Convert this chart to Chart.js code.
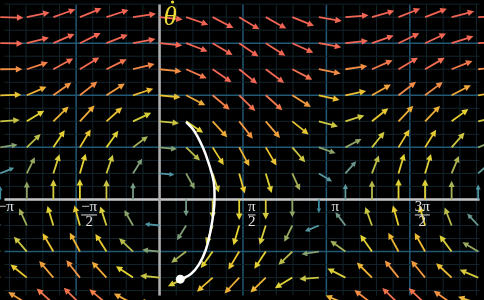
<!DOCTYPE html>
<html>
<head>
<meta charset="utf-8">
<title>Pendulum phase space</title>
<script src="https://cdn.jsdelivr.net/npm/chart.js@4.4.0/dist/chart.umd.min.js"></script>
<style>
    html, body { margin: 0; padding: 0; background: #000; }
    #wrap { width: 484px; height: 300px; }
</style>
</head>
<body>
<div id="wrap"><canvas id="phaseChart" width="484" height="300"></canvas></div>
<script>
// Phase space of a damped pendulum: theta on x, theta-dot on y

// Sample grid of the vector field
const thetaSamples = [-3, -2.5, -2, -1.5, -1, -0.5, 0, 0.5, 1, 1.5, 2, 2.5, 3, 3.5, 4, 4.5, 5, 5.5, 6];
const omegaSamples = [-2, -1.5, -1, -0.5, 0, 0.5, 1, 1.5, 2, 2.5, 3, 3.5];

// Vertical component of the arrows on the theta axis (one per column)
const gravityPull = [0.26, 1.08, 1.64, 1.80, 1.52, 0.87, 0, -0.87, -1.52, -1.80, -1.64, -1.08, -0.26,
                     0.63, 1.37, 1.77, 1.73, 1.27, 0.50];
// Extra vertical component from friction (one per row)
const dragByRow = [0.20, 0.15, 0.10, 0.05, 0, -0.05, -0.10, -0.15, -0.20, -0.25, -0.30, -0.35];

// White trail ending at the current state
const trailTheta = [0.50, 0.65, 0.81, 0.92, 1.02, 1.035, 1.02, 0.96, 0.87, 0.74, 0.59, 0.41];
const trailOmega = [1.49, 1.32, 1.01, 0.71, 0.34, 0.02, -0.22, -0.60, -0.97, -1.25, -1.43, -1.53];
const stateTheta = [0.39];
const stateOmega = [-1.53];

// Tick labels on the theta axis
const thetaTickValues = [-Math.PI, -Math.PI / 2, Math.PI / 2, Math.PI, 3 * Math.PI / 2];
const thetaTickLabels = ['\u2212\u03c0', '\u2212\u03c0/2', '\u03c0/2', '\u03c0', '3\u03c0/2'];

// Colour by vector magnitude
const rampStops = [0, 0.5, 0.9, 1.1, 1.5, 1.8, 2.05, 2.35, 2.7, 3.0, 4.5];
const rampColors = [
    [40, 130, 150], [80, 150, 165], [120, 155, 130], [145, 165, 100], [200, 196, 68],
    [228, 212, 52], [236, 190, 50], [240, 160, 62], [242, 122, 76], [242, 104, 84], [240, 96, 82]
];

function rampColor(m) {
    if (m <= rampStops[0]) return 'rgb(' + rampColors[0].join(',') + ')';
    for (let i = 1; i < rampStops.length; i++) {
        if (m <= rampStops[i]) {
            const t = (m - rampStops[i - 1]) / (rampStops[i] - rampStops[i - 1]);
            const a = rampColors[i - 1], b = rampColors[i];
            return 'rgb(' + a.map((c, k) => Math.round(c + (b[k] - c) * t)).join(',') + ')';
        }
    }
    return 'rgb(' + rampColors[rampColors.length - 1].join(',') + ')';
}

const sigmoid = t => 1 / (1 + Math.exp(-t));

// Field table built from the arrays above
const fieldPoints = [];
omegaSamples.forEach((w, j) => {
    thetaSamples.forEach((th, i) => {
        const v = gravityPull[i] + dragByRow[j];
        if (w === 0 && v === 0) return;
        fieldPoints.push({ x: th, y: w, u: w, v: v });
    });
});

const phasePlugin = {
    id: 'phaseSpace',
    beforeDraw(chart) {
        const { ctx, width, height } = chart;
        ctx.save();
        ctx.fillStyle = '#000';
        ctx.fillRect(0, 0, width, height);
        ctx.restore();
    },
    beforeDatasetsDraw(chart) {
        const { ctx, chartArea: area, scales: { x, y } } = chart;
        ctx.save();

        // grid: theta lines every pi/10, omega lines every 1/4
        for (let k = -10; k <= 20; k++) {
            const px = x.getPixelForValue(k * Math.PI / 10);
            if (px < area.left - 2 || px > area.right + 2) continue;
            const major = k % 5 === 0;
            ctx.strokeStyle = major ? '#235874' : '#12252c';
            ctx.lineWidth = major ? 1.5 : 1;
            ctx.beginPath();
            ctx.moveTo(px, area.top);
            ctx.lineTo(px, area.bottom);
            ctx.stroke();
        }
        for (let k = -8; k <= 16; k++) {
            const py = y.getPixelForValue(k / 4);
            if (py < area.top - 2 || py > area.bottom + 2) continue;
            const major = k % 4 === 0;
            ctx.strokeStyle = major ? '#235874' : '#12252c';
            ctx.lineWidth = major ? 1.5 : 1;
            ctx.beginPath();
            ctx.moveTo(area.left, py);
            ctx.lineTo(area.right, py);
            ctx.stroke();
        }

        // axes
        const x0 = x.getPixelForValue(0), y0 = y.getPixelForValue(0);
        ctx.lineWidth = 2.5;
        ctx.strokeStyle = '#c4c4c4';
        ctx.beginPath();
        ctx.moveTo(area.left, y0);
        ctx.lineTo(area.right, y0);
        ctx.stroke();
        ctx.strokeStyle = '#b0b0b0';
        ctx.beginPath();
        ctx.moveTo(x0, area.top);
        ctx.lineTo(x0, area.bottom);
        ctx.stroke();

        // vector field arrows
        const unit = x.getPixelForValue(1) - x.getPixelForValue(0);
        fieldPoints.forEach(p => {
            const sx = x.getPixelForValue(p.x), sy = y.getPixelForValue(p.y);
            const dx = x.getPixelForValue(p.x + p.u) - sx;
            const dy = y.getPixelForValue(p.y + p.v) - sy;
            const d = Math.hypot(dx, dy);
            const mag = Math.hypot(p.u, p.v);
            const len = 0.45 * sigmoid(mag) * unit;
            const ux = dx / d, uy = dy / d;
            const ex = sx + ux * len, ey = sy + uy * len;
            const head = Math.min(6.5, 0.33 * len);
            const half = head * 0.5;
            const bx = ex - ux * head, by = ey - uy * head;
            const col = rampColor(mag);

            ctx.strokeStyle = col;
            ctx.fillStyle = col;
            ctx.lineWidth = 1.8;
            ctx.beginPath();
            ctx.moveTo(sx, sy);
            ctx.lineTo(bx + ux * 0.5, by + uy * 0.5);
            ctx.stroke();

            ctx.beginPath();
            ctx.moveTo(ex, ey);
            ctx.lineTo(bx - uy * half, by + ux * half);
            ctx.lineTo(bx + uy * half, by - ux * half);
            ctx.closePath();
            ctx.fill();
        });
        ctx.restore();
    },
    afterDatasetsDraw(chart) {
        const { ctx, scales: { x, y } } = chart;
        const y0 = y.getPixelForValue(0);
        ctx.save();
        ctx.fillStyle = '#e2e2e2';
        ctx.strokeStyle = '#e2e2e2';
        ctx.textAlign = 'left';
        ctx.textBaseline = 'alphabetic';
        ctx.font = '15px "Liberation Serif"';

        thetaTickValues.forEach((val, i) => {
            const left = x.getPixelForValue(val) + 5;
            const parts = thetaTickLabels[i].split('/');
            const numW = ctx.measureText(parts[0]).width;
            ctx.fillText(parts[0], left, y0 + 12);
            if (parts.length > 1) {
                ctx.lineWidth = 1;
                ctx.beginPath();
                ctx.moveTo(left, y0 + 15.5);
                ctx.lineTo(left + numW, y0 + 15.5);
                ctx.stroke();
                const denW = ctx.measureText(parts[1]).width;
                ctx.fillText(parts[1], left + (numW - denW) / 2, y0 + 27);
            }
        });

        // theta-dot label on the vertical axis
        const x0 = x.getPixelForValue(0);
        ctx.fillStyle = '#f0dc34';
        ctx.font = 'italic 27px "Liberation Serif"';
        ctx.fillText('\u03b8', x0 + 4, 25);
        ctx.beginPath();
        ctx.arc(x0 + 13, 2, 1.6, 0, Math.PI * 2);
        ctx.fill();
        ctx.restore();
    }
};

document.addEventListener('DOMContentLoaded', function () {
    const ctx = document.getElementById('phaseChart').getContext('2d');

    new Chart(ctx, {
        type: 'scatter',
        data: {
            datasets: [
                {
                    label: 'state',
                    data: stateTheta.map((t, i) => ({ x: t, y: stateOmega[i] })),
                    pointRadius: 4.5,
                    pointBackgroundColor: '#ffffff',
                    pointBorderWidth: 0
                },
                {
                    label: 'trail',
                    data: trailTheta.map((t, i) => ({ x: t, y: trailOmega[i] })),
                    showLine: true,
                    borderColor: '#ffffff',
                    borderWidth: 2.5,
                    tension: 0.4,
                    pointRadius: 0
                },
                {
                    label: 'field',
                    data: fieldPoints,
                    pointRadius: 0
                }
            ]
        },
        options: {
            responsive: false,
            animation: false,
            devicePixelRatio: 1,
            layout: { padding: 0 },
            scales: {
                x: { type: 'linear', min: -2.92, max: 6.025, display: false },
                y: { type: 'linear', min: -1.844, max: 3.743, display: false }
            },
            plugins: {
                legend: { display: false },
                tooltip: { enabled: false }
            }
        },
        plugins: [phasePlugin]
    });
});
</script>
</body>
</html>
